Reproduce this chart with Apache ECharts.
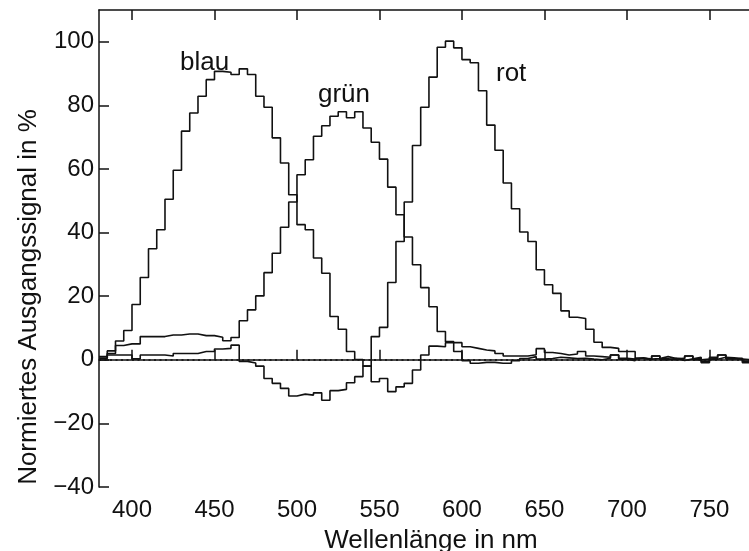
<!DOCTYPE html>
<html>
<head>
<meta charset="utf-8">
<script src="https://cdn.jsdelivr.net/npm/echarts@6/dist/echarts.min.js"></script>
<style>
  html, body { margin: 0; padding: 0; background: #fff; }
  #chart { width: 749px; height: 551px; }
</style>
</head>
<body>
<div id="chart"></div>
<script>
// bin starts (nm), each bin is 5 nm wide
var wavelengths = [380, 385, 390, 395, 400, 405, 410, 415, 420, 425, 430, 435, 440, 445, 450, 455,
  460, 465, 470, 475, 480, 485, 490, 495, 500, 505, 510, 515, 520, 525, 530, 535, 540, 545, 550,
  555, 560, 565, 570, 575, 580, 585, 590, 595, 600, 605, 610, 615, 620, 625, 630, 635, 640, 645,
  650, 655, 660, 665, 670, 675, 680, 685, 690, 695, 700, 705, 710, 715, 720, 725, 730, 735, 740,
  745, 750, 755, 760, 765, 770];
var binWidth = 5;

var blau = [1.0, 2.8, 5.9, 9.2, 17.4, 25.9, 34.9, 40.9, 50.5, 59.6, 71.9, 77.6, 82.9, 88.1, 90.7, 90.4,
  89.7, 91.5, 89.7, 82.9, 79.4, 69.8, 61.9, 51.9, 42.5, 40.9, 32.0, 27.2, 13.6, 9.6, 2.6, 0.1, -2.0, -6.9, -5.9,
  -10.0, -8.5, -7.4, -3.2, 1.5, 4.3, 4.1, 5.4, 5.4, 4.1, 3.6, 3.1, 2.8, 2.0, 1.2, 1.2, 1.2, 1.6, 3.5,
  2.3, 2.0, 1.5, 1.8, 2.6, 1.2, 1.0, 0.8, 1.5, 0.5, 0.2, 0.6, 0.0, 1.2, 0.3, 0.0, 0.5, 1.2, 0.3,
  -0.5, 0.8, 1.5, 0.3, 0.5, -0.9];

var gruen = [0.5, 2.0, 4.5, 5.0, 5.0, 7.3, 7.3, 7.3, 7.8, 7.8, 8.1, 8.1, 7.6, 7.6, 7.1, 6.0,
  7.0, 12.3, 15.7, 20.1, 27.4, 33.5, 41.7, 49.6, 58.2, 62.9, 70.3, 73.6, 76.6, 78.0, 76.1, 78.0, 72.9, 68.4, 63.1,
  54.3, 45.6, 38.6, 29.9, 22.7, 16.7, 8.9, 5.7, 2.6, -0.3, -1.1, -0.8, -0.8, -1.1, -1.1, -0.3, 0.4, 1.0, 0.2,
  0.4, 0.8, 0.6, 0.4, 0.5, 0.2, 0.0, 0.5, 1.5, 0.2, -0.3, 0.5, 0.2, 0.4, 1.0, 0.4, -0.2, 0.3, 0.8,
  -0.9, 0.2, 0.8, 0.6, 0.3, -0.5];

var rot = [0.5, 1.5, 1.5, 1.5, 0.3, 1.5, 1.5, 1.5, 1.2, 2.0, 2.0, 2.0, 2.6, 2.6, 3.4, 3.6,
  4.6, -0.5, -1.0, -2.0, -5.9, -7.4, -9.0, -11.4, -10.8, -11.1, -10.4, -12.7, -9.7, -9.3, -7.2, -5.3, -2.0, 7.3, 10.2,
  24.3, 37.2, 49.6, 67.4, 79.4, 88.9, 98.3, 100.2, 98.1, 94.4, 93.4, 84.6, 73.8, 65.9, 55.6, 47.5, 40.2, 37.2, 28.3,
  23.6, 20.9, 15.4, 13.4, 13.0, 9.6, 5.5, 3.9, 3.6, 2.6, 2.6, 0.5, 0.3, 1.2, 0.0, 0.5, 0.4, 1.2, 0.0,
  0.2, 0.4, 1.5, 0.4, 0.2, 0.0];

var xTicks = [400, 450, 500, 550, 600, 650, 700, 750];
var yTicks = [-40, -20, 0, 20, 40, 60, 80, 100];

function steps(values) {
  var pts = [];
  for (var i = 0; i < values.length; i++) {
    pts.push([wavelengths[i], values[i]]);
  }
  // close the last bin
  pts.push([wavelengths[wavelengths.length - 1] + binWidth, values[values.length - 1]]);
  return pts;
}

var FONT = 'Liberation Sans';
var ink = '#111';

function curve(name, values) {
  return {
    name: name,
    type: 'line',
    step: 'end',
    showSymbol: false,
    symbol: 'none',
    silent: true,
    lineStyle: { color: ink, width: 1.6 },
    data: steps(values)
  };
}

var myChart = echarts.init(document.getElementById('chart'));

var series = [curve('blau', blau), curve('grün', gruen), curve('rot', rot)];
series[0].markLine = {
  silent: true,
  symbol: 'none',
  label: { show: false },
  lineStyle: { color: ink, type: [2, 3.5], width: 1.6 },
  data: [{ yAxis: 0 }]
};

myChart.setOption({
  animation: false,
  backgroundColor: '#fff',
  grid: { left: 99, right: 0, top: 10, bottom: 64, containLabel: false, outerBoundsMode: 'none' },
  xAxis: [{
    type: 'value',
    position: 'bottom',
    min: 380,
    max: 774,
    name: 'Wellenlänge in nm',
    nameLocation: 'middle',
    nameGap: 41,
    nameTextStyle: { fontFamily: FONT, fontSize: 26, color: ink, padding: [0, 0, 0, 14] },
    axisLine: { lineStyle: { color: ink, width: 1.5 } },
    axisTick: { inside: true, length: 10, customValues: xTicks, lineStyle: { color: ink, width: 1.5 } },
    axisLabel: { customValues: xTicks, fontFamily: FONT, fontSize: 24, color: ink, margin: 11 },
    splitLine: { show: false }
  }, {
    type: 'value',
    position: 'top',
    min: 380,
    max: 774,
    axisLine: { lineStyle: { color: ink, width: 1.5 } },
    axisTick: { inside: true, length: 10, customValues: xTicks, lineStyle: { color: ink, width: 1.5 } },
    axisLabel: { show: false },
    splitLine: { show: false }
  }],
  yAxis: {
    type: 'value',
    min: -40,
    max: 110,
    axisLine: { show: true, lineStyle: { color: ink, width: 1.5 } },
    axisTick: { inside: true, length: 10, customValues: yTicks, lineStyle: { color: ink, width: 1.5 } },
    axisLabel: {
      customValues: yTicks, fontFamily: FONT, fontSize: 24, color: ink, margin: 5,
      formatter: function (v) { return v < 0 ? '\u2212' + Math.abs(v) : String(v); }
    },
    splitLine: { show: false }
  },
  graphic: [
    { type: 'text', x: 29, y: 297, rotation: Math.PI / 2, silent: true,
      style: { text: 'Normiertes Ausgangssignal in %', font: '26px "Liberation Sans"', fill: ink,
        align: 'center', verticalAlign: 'middle' } },
    { type: 'text', left: 180, top: 50, silent: true,
      style: { text: 'blau', font: '26px "Liberation Sans"', fill: ink } },
    { type: 'text', left: 318, top: 82, silent: true,
      style: { text: 'grün', font: '26px "Liberation Sans"', fill: ink } },
    { type: 'text', left: 496, top: 61, silent: true,
      style: { text: 'rot', font: '26px "Liberation Sans"', fill: ink } }
  ],
  series: series
});
</script>
</body>
</html>
